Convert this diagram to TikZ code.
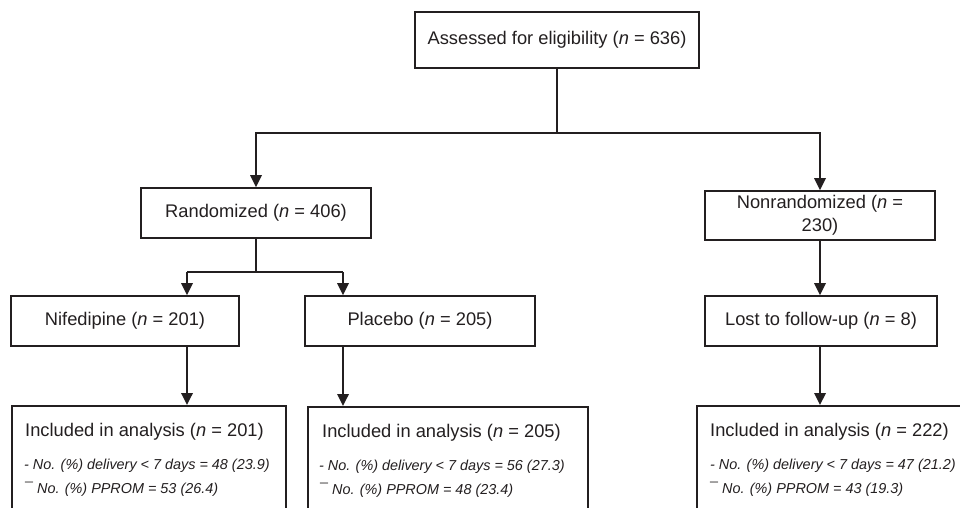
\documentclass[tikz,border=0pt]{standalone}
\usepackage{fontspec}
\setmainfont{Liberation Sans}
\usetikzlibrary{arrows.meta}
\definecolor{ink}{HTML}{231F20}
\newcommand\mainfs{\fontsize{18.3}{23}\selectfont}
\newcommand\smallit{\fontsize{14.4}{17}\selectfont\itshape}
\begin{document}
\begin{tikzpicture}[x=1pt,y=-1pt,
  box/.style={draw=ink, line width=1.8pt, rectangle, inner sep=0pt, font=\mainfs, text=ink},
  txt/.style={inner sep=0pt, anchor=base west, text=ink},
  conn/.style={draw=ink, line width=1.8pt},
  arr/.style={conn, -{Triangle[length=12pt,width=11.5pt]}}]
\useasboundingbox (0,0) rectangle (960,507);
\clip (0,0) rectangle (960,507);
\fill[white] (0,0) rectangle (960,507);
% boxes
\node[box, minimum width=284pt, minimum height=56pt] (top) at (557,40) {Assessed for eligibility (\textit{n} = 636)};
\node[box, minimum width=230pt, minimum height=50pt] (rand) at (256,213) {Randomized (\textit{n} = 406)};
\node[box, minimum width=230pt, minimum height=49pt, align=center] (nonrand) at (820,215.5) {Nonrandomized (\textit{n} =\\230)};
\node[box, minimum width=228pt, minimum height=50pt] (nif) at (125,321) {Nifedipine (\textit{n} = 201)};
\node[box, minimum width=230pt, minimum height=50pt] (plac) at (420,321) {Placebo (\textit{n} = 205)};
\node[box, minimum width=232pt, minimum height=50pt] (lost) at (821,321) {Lost to follow-up (\textit{n} = 8)};
\node[box, anchor=north west, minimum width=274pt, minimum height=140pt] (inc1) at (11,405) {};
\node[box, anchor=north west, minimum width=280pt, minimum height=140pt] (inc2) at (307,406) {};
\node[box, anchor=north west, minimum width=300pt, minimum height=140pt] (inc3) at (696,405) {};
% texts of included boxes
\node[txt, font=\mainfs] (inc1t) at (25,436) {Included in analysis (\textit{n} = 201)};
\node[txt, font=\smallit] (inc1a) at (24,469) {- No. (\%) delivery < 7 days = 48 (23.9)};
\node[txt, font=\smallit] (inc1b) at (25,493) {¯ No. (\%) PPROM = 53 (26.4)};
\node[txt, font=\mainfs] (inc2t) at (322,437) {Included in analysis (\textit{n} = 205)};
\node[txt, font=\smallit] (inc2a) at (319,470) {- No. (\%) delivery < 7 days = 56 (27.3)};
\node[txt, font=\smallit] (inc2b) at (320,494) {¯ No. (\%) PPROM = 48 (23.4)};
\node[txt, font=\mainfs] (inc3t) at (710,436) {Included in analysis (\textit{n} = 222)};
\node[txt, font=\smallit] (inc3a) at (710,469) {- No. (\%) delivery < 7 days = 47 (21.2)};
\node[txt, font=\smallit] (inc3b) at (710,493) {¯ No. (\%) PPROM = 43 (19.3)};
% connectors
\coordinate (j0) at (557,133);
\draw[conn] (top.south) -- (j0);
\draw[arr] (j0) -| (rand.north);
\draw[arr] (j0) -| (nonrand.north);
\coordinate (j1) at (256,272);
\coordinate (a1) at (187,272);
\coordinate (a2) at (343,272);
\draw[conn] (rand.south) -- (j1);
\draw[conn] (a1) -- (a2);
\draw[arr] (a1) -- (a1 |- nif.north);
\draw[arr] (a2) -- (a2 |- plac.north);
\draw[arr] (nif.south -| a1) -- (inc1.north -| a1);
\draw[arr] (plac.south -| a2) -- (inc2.north -| a2);
\draw[arr] (nonrand.south) -- (nonrand.south |- lost.north);
\draw[arr] (nonrand.south |- lost.south) -- (nonrand.south |- inc3.north);
\end{tikzpicture}
\end{document}
